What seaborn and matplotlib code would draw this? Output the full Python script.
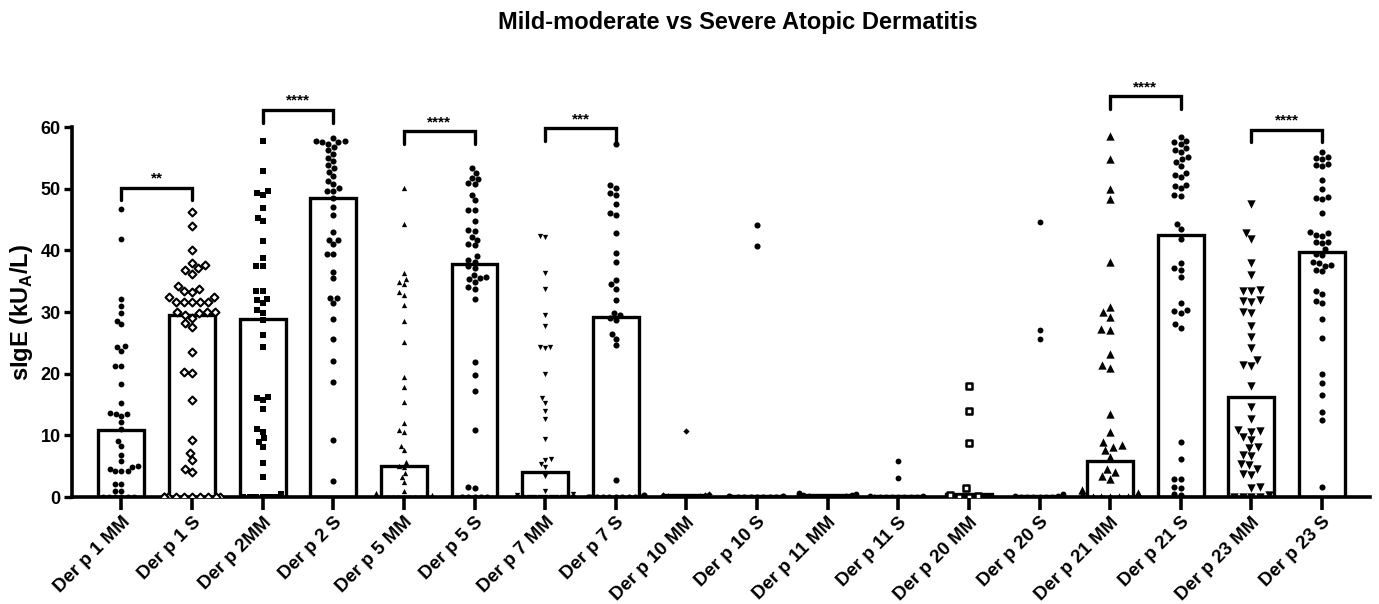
import numpy as np
import pandas as pd
from matplotlib import pyplot as plt
import seaborn as sns

# groups on the x axis
groups = ['Der p 1 MM', 'Der p 1 S', 'Der p 2MM', 'Der p 2 S', 'Der p 5 MM', 'Der p 5 S',
          'Der p 7 MM', 'Der p 7 S', 'Der p 10 MM', 'Der p 10 S', 'Der p 11 MM', 'Der p 11 S',
          'Der p 20 MM', 'Der p 20 S', 'Der p 21 MM', 'Der p 21 S', 'Der p 23 MM', 'Der p 23 S']

# bar heights
bar_heights = [10.8, 29.5, 28.8, 48.5, 5.1, 37.8, 4.1, 29.2, 0.4, 0.2, 0.4, 0.2,
               0.5, 0.2, 5.8, 42.5, 16.2, 39.8]

# individual sIgE values per group
p1_mm = [46.7, 41.9, 32.1, 31.0, 29.9, 28.6, 28.0, 24.5, 24.3, 23.7, 21.3, 21.3, 18.3, 15.2,
         13.7, 13.5, 13.5, 13.2, 12.2, 11.0, 9.1, 8.3, 6.9, 5.9, 5.0, 4.9, 4.6, 4.2, 4.2, 4.2,
         2.2, 2.2, 1.0, 1.0, 0, 0, 0, 0, 0, 0]
p1_s = [46.3, 44.0, 40.0, 38.0, 37.6, 37.1, 36.9, 36.2, 34.2, 33.7, 33.5, 33.2, 32.5, 32.4,
        31.7, 31.7, 31.7, 31.7, 31.7, 30.0, 30.0, 30.0, 29.8, 29.6, 29.1, 28.3, 27.6, 23.6,
        20.3, 20.2, 15.8, 9.2, 7.2, 6.0, 4.5, 4.0, 0, 0, 0, 0, 0, 0, 0, 0, 0, 0]
p2_mm = [57.8, 52.8, 49.6, 49.3, 49.0, 46.8, 45.3, 44.7, 41.5, 38.7, 37.4, 37.4, 33.5, 33.5,
         32.2, 31.9, 31.5, 30.3, 29.9, 28.7, 26.3, 24.4, 16.2, 16.0, 15.7, 14.3, 11.1, 10.6,
         9.6, 9.0, 8.2, 5.5, 3.2, 0.5, 0, 0, 0, 0, 0, 0]
p2_s = [58.2, 57.7, 57.7, 57.5, 57.5, 57.3, 56.8, 56.3, 55.7, 55.0, 54.5, 53.8, 53.3, 52.7,
        52.0, 51.3, 50.8, 50.2, 49.7, 49.7, 48.5, 47.0, 45.8, 43.0, 41.7, 41.7, 41.0, 39.5,
        39.5, 36.5, 35.5, 32.3, 32.3, 31.5, 28.8, 25.7, 22.1, 18.7, 9.2, 2.6]
p5_mm = [50.2, 44.3, 36.3, 35.3, 34.9, 34.5, 33.3, 32.8, 31.1, 28.6, 25.2, 19.5, 17.9, 15.4,
         12.0, 10.8, 10.6, 8.3, 7.6, 5.7, 5.1, 4.9, 3.9, 3.2, 2.4, 1.0, 0.6, 0.3, 0.2,
         0, 0, 0, 0, 0, 0, 0, 0, 0, 0, 0]
p5_s = [53.3, 52.5, 51.7, 51.5, 50.9, 50.7, 49.0, 48.1, 46.6, 46.5, 44.7, 43.3, 43.2, 42.2,
        41.7, 41.0, 40.8, 39.1, 38.5, 38.2, 37.4, 37.2, 36.0, 35.7, 35.5, 34.9, 35.3, 34.0,
        33.8, 32.1, 21.9, 19.8, 17.2, 10.8, 1.7, 1.5, 0, 0, 0, 0, 0]
p7_mm = [42.3, 42.1, 36.4, 33.8, 29.5, 27.7, 24.4, 24.4, 24.1, 20.0, 16.0, 15.3, 13.9, 12.7,
         9.5, 6.2, 6.0, 5.4, 4.9, 3.5, 1.0, 0.5, 0.3, 0, 0, 0, 0, 0, 0, 0, 0, 0, 0, 0]
p7_s = [57.3, 50.6, 50.2, 49.3, 49.0, 47.6, 46.1, 45.7, 42.9, 39.6, 38.2, 35.2, 34.5, 33.8,
        31.9, 29.9, 29.5, 29.1, 28.7, 26.5, 25.7, 24.6, 2.8, 0.3, 0, 0, 0, 0, 0, 0, 0, 0, 0, 0]
p10_mm = [10.7, 0.5, 0.4, 0.3, 0.2, 0.1, 0, 0, 0, 0, 0, 0]
p10_s = [44.2, 40.7, 0.2, 0.1, 0, 0, 0, 0, 0, 0, 0, 0]
p11_mm = [0.6, 0.5, 0.4, 0.3, 0.3, 0.2, 0.1, 0, 0, 0, 0, 0]
p11_s = [5.8, 3.1, 0.2, 0.1, 0, 0, 0, 0, 0, 0, 0, 0]
p20_mm = [18.0, 13.9, 8.8, 1.4, 0.4, 0.2, 0, 0]
p20_s = [44.6, 27.1, 25.6, 0.5, 0.2, 0.1, 0, 0, 0, 0, 0, 0]
p21_mm = [58.5, 54.8, 50.0, 48.3, 38.2, 30.9, 30.0, 29.2, 27.3, 27.1, 23.2, 21.4, 21.0, 13.5,
          10.6, 8.9, 8.4, 8.1, 7.6, 6.5, 4.6, 4.1, 3.5, 3.0, 1.1, 0.6, 0.3, 0, 0, 0, 0, 0,
          0, 0, 0, 0, 0, 0]
p21_s = [58.4, 57.8, 57.5, 57.3, 56.6, 56.3, 56.0, 55.1, 54.8, 54.4, 53.7, 52.5, 52.3, 51.9,
         50.6, 50.4, 50.1, 49.0, 48.8, 44.3, 43.5, 41.8, 37.9, 37.1, 36.9, 35.7, 31.5, 30.3,
         30.1, 29.9, 28.0, 27.5, 8.9, 6.2, 3.0, 2.9, 1.6, 1.5, 0.5, 0.4]
p23_mm = [47.6, 42.8, 41.8, 38.0, 36.0, 33.6, 33.5, 33.4, 31.9, 31.8, 31.6, 30.0, 29.9, 27.7,
          26.0, 24.1, 22.2, 21.4, 21.2, 18.0, 14.6, 12.7, 10.8, 10.7, 10.6, 9.7, 9.2, 8.1,
          7.9, 6.8, 6.6, 5.4, 5.2, 4.6, 3.8, 3.6, 1.6, 1.4, 0.3, 0, 0, 0, 0]
p23_s = [55.9, 55.1, 55.0, 54.8, 54.0, 53.9, 53.7, 51.4, 49.9, 48.6, 48.5, 48.4, 46.1, 43.0,
         42.5, 42.4, 42.8, 41.4, 41.3, 41.2, 40.2, 39.5, 39.3, 38.2, 37.6, 38.0, 37.5, 36.8,
         36.6, 33.5, 33.0, 31.8, 31.4, 28.8, 25.8, 19.9, 18.5, 16.5, 13.8, 12.5, 1.7]

points = [p1_mm, p1_s, p2_mm, p2_s, p5_mm, p5_s, p7_mm, p7_s, p10_mm, p10_s,
          p11_mm, p11_s, p20_mm, p20_s, p21_mm, p21_s, p23_mm, p23_s]

# marker per group: (marker, size, face, edge width)
markers = [('o', 4.2, 'black', 0), ('D', 4.0, 'white', 1.5), ('s', 4.4, 'black', 0),
           ('o', 4.4, 'black', 0), ('^', 3.8, 'black', 0), ('o', 4.4, 'black', 0),
           ('v', 3.8, 'black', 0), ('o', 4.4, 'black', 0), ('D', 3.2, 'black', 0),
           ('o', 4.4, 'black', 0), ('o', 4.2, 'black', 0), ('o', 4.2, 'black', 0),
           ('s', 4.8, 'white', 1.8), ('o', 4.2, 'black', 0), ('^', 6.0, 'black', 0),
           ('o', 4.4, 'black', 0), ('v', 6.0, 'black', 0), ('o', 4.4, 'black', 0)]

# significance brackets
bracket_pairs = [(0, 1), (2, 3), (4, 5), (6, 7), (14, 15), (16, 17)]
bracket_heights = [50.2, 62.8, 59.3, 59.8, 65.0, 59.6]
bracket_labels = ['**', '****', '****', '***', '****', '****']

sns.set_style('white')
plt.rcParams['font.family'] = ['Liberation Sans', 'DejaVu Sans']
plt.rcParams['font.weight'] = 'bold'
plt.rcParams['text.color'] = 'black'
plt.rcParams['axes.labelcolor'] = 'black'
plt.rcParams['xtick.color'] = 'black'
plt.rcParams['ytick.color'] = 'black'
plt.rcParams['mathtext.fontset'] = 'custom'
plt.rcParams['mathtext.rm'] = 'Liberation Sans:bold'
plt.rcParams['mathtext.bf'] = 'Liberation Sans:bold'

fig = plt.figure(figsize=(13.79, 6.04), dpi=100)
ax = fig.add_axes([0.0522, 0.177, 0.9413, 0.6126])

bars = pd.DataFrame({'group': groups, 'value': bar_heights})
sns.barplot(data=bars, x='group', y='value', order=groups, color='white', saturation=1,
            edgecolor='black', linewidth=2.4, width=0.65, ax=ax, zorder=2)

long = pd.DataFrame({'group': np.repeat(groups, [len(p) for p in points]),
                     'value': np.concatenate(points)})

for g, (m, sz, face, lw) in zip(groups, markers):
    sub = long[long['group'] == g]
    if face == 'white':
        sns.swarmplot(data=sub, x='group', y='value', order=groups, marker=m, size=sz,
                      color='white', edgecolor='black', linewidth=lw,
                      warn_thresh=1, ax=ax, zorder=4)
    else:
        sns.swarmplot(data=sub, x='group', y='value', order=groups, marker=m, size=sz,
                      color='black', linewidth=0, warn_thresh=1, ax=ax, zorder=4)

for (a, b), h, lab in zip(bracket_pairs, bracket_heights, bracket_labels):
    ax.plot([a, a, b, b], [h - 2.1, h, h, h - 2.1], color='black', lw=2.4,
            clip_on=False, solid_joinstyle='miter')
    ax.text((a + b) / 2, h + 0.3, lab, ha='center', va='bottom', fontsize=11,
            fontweight='bold')

ax.set_xlim(-0.7, 17.68)
ax.set_ylim(0, 60)
ax.set_yticks([0, 10, 20, 30, 40, 50, 60])
ax.set_xlabel('')
ax.set_ylabel(r'sIgE (kU$_{\mathrm{A}}$/L)', fontsize=17, fontweight='bold', labelpad=4)
ax.tick_params(axis='y', labelsize=13, width=2.4, length=6, pad=2, direction='out', left=True)
ax.tick_params(axis='x', labelsize=13.5, width=2.6, length=9, pad=3, direction='out',
               bottom=True)
plt.setp(ax.get_xticklabels(), rotation=45, ha='right', rotation_mode='anchor',
         fontweight='bold')
plt.setp(ax.get_yticklabels(), fontweight='bold')
for side in ['top', 'right']:
    ax.spines[side].set_visible(False)
for side in ['left', 'bottom']:
    ax.spines[side].set_linewidth(2.6)
    ax.spines[side].set_color('black')

fig.text(0.535, 0.962, 'Mild-moderate vs Severe Atopic Dermatitis', ha='center',
         va='center', fontsize=17, fontweight='bold')

fig.savefig('out.png', dpi=100)
